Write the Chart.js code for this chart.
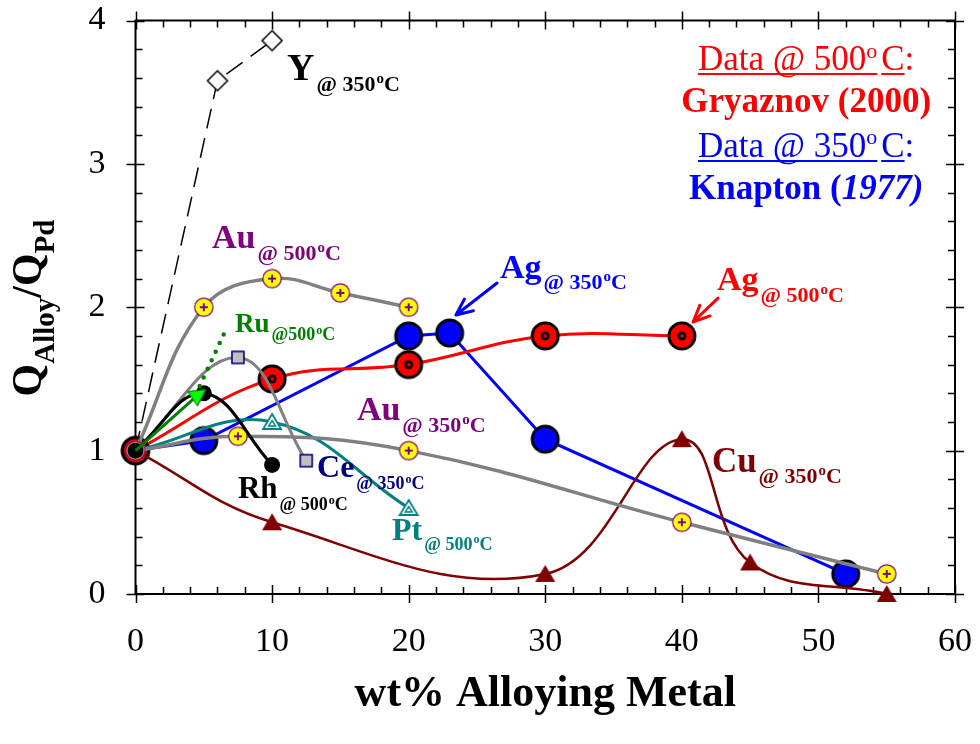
<!DOCTYPE html>
<html>
<head>
<meta charset="utf-8">
<script src="https://cdn.jsdelivr.net/npm/chart.js@4/dist/chart.umd.min.js"></script>
<style>
  html, body { margin: 0; padding: 0; background: #fff; }
  #wrap { width: 980px; height: 744px; position: relative; }
</style>
</head>
<body>
<div id="wrap"><canvas id="c" width="980" height="744"></canvas></div>
<script>
const SERIF = '"Liberation Serif", "Times New Roman", serif';

// wt% of alloying metal and relative permeability Q_alloy / Q_Pd, one pair of arrays per series
const yX = [0, 6, 10];
const yQ = [1, 3.58, 3.86];
const au500X = [0, 5, 10, 15, 20];
const au500Q = [1, 2.0, 2.2, 2.1, 2.0];
const au350X = [0, 7.5, 20, 40, 55];
const au350Q = [1, 1.1, 1.0, 0.5, 0.14];
const ag350X = [0, 5, 20, 23, 30, 52];
const ag350Q = [1, 1.07, 1.8, 1.82, 1.08, 0.14];
const ag500X = [0, 10, 20, 30, 40];
const ag500Q = [1, 1.5, 1.6, 1.8, 1.8];
const ceX = [0, 7.5, 12.5];
const ceQ = [1, 1.65, 0.93];
const rhX = [0, 5, 10];
const rhQ = [1, 1.4, 0.9];
const ruX = [0, 4.6];
const ruQ = [1, 1.39];
const ruTrendX = [4.7, 6.5];
const ruTrendQ = [1.45, 1.82];
const ptX = [0, 10, 20];
const ptQ = [1, 1.2, 0.6];
const cuX = [0, 10, 30, 40, 45, 55];
const cuQ = [1, 0.5, 0.14, 1.08, 0.22, 0];

const xTickValues = [0, 10, 20, 30, 40, 50, 60];
const yTickValues = [0, 1, 2, 3, 4];

const pts = (xs, ys) => xs.map((x, i) => ({ x: x, y: ys[i] }));

// ---------- marker images ----------
function makeMarker(w, h, draw) {
  const c = document.createElement('canvas');
  c.width = w; c.height = h;
  draw(c.getContext('2d'), w, h);
  return c;
}
function disc(g, x, y, r, color) {
  g.beginPath(); g.arc(x, y, r, 0, Math.PI * 2); g.fillStyle = color; g.fill();
}
const agRedMarker = makeMarker(32, 32, g => {
  disc(g, 16, 16, 14.5, '#000');
  disc(g, 16, 16, 11.5, '#ff0000');
  disc(g, 16, 16, 4.5, '#000');
  disc(g, 16, 16, 1.7, '#ff0000');
});
const agBlueMarker = makeMarker(32, 32, g => {
  disc(g, 16, 16, 14.5, '#000');
  disc(g, 16, 16, 11.5, '#0000ff');
});
const auMarker = makeMarker(22, 22, g => {
  disc(g, 11, 11, 9.8, '#800080');
  disc(g, 11, 11, 8.6, '#ffff00');
  g.strokeStyle = '#800080'; g.lineWidth = 2;
  g.beginPath(); g.moveTo(7, 11); g.lineTo(15, 11); g.moveTo(11, 7); g.lineTo(11, 15); g.stroke();
});
const ceMarker = makeMarker(16, 16, g => {
  g.fillStyle = '#c0c0c0'; g.fillRect(2, 2, 12, 12);
  g.strokeStyle = '#000080'; g.lineWidth = 1.6; g.strokeRect(2, 2, 12, 12);
});
const ptMarker = makeMarker(22, 20, g => {
  g.strokeStyle = '#008080'; g.lineWidth = 1.8; g.fillStyle = '#fff';
  g.beginPath(); g.moveTo(11, 2); g.lineTo(20, 17); g.lineTo(2, 17); g.closePath(); g.fill(); g.stroke();
  g.lineWidth = 1.4;
  g.beginPath(); g.moveTo(11, 8.5); g.lineTo(14.5, 14); g.lineTo(7.5, 14); g.closePath(); g.stroke();
});
const cuMarker = makeMarker(22, 20, g => {
  g.fillStyle = '#800000';
  g.beginPath(); g.moveTo(11, 1); g.lineTo(21, 18); g.lineTo(1, 18); g.closePath(); g.fill();
});
const yMarker = makeMarker(24, 24, g => {
  g.strokeStyle = '#000'; g.lineWidth = 1.5; g.fillStyle = '#fff';
  g.beginPath(); g.moveTo(12, 2); g.lineTo(22, 12); g.lineTo(12, 22); g.lineTo(2, 12); g.closePath(); g.fill(); g.stroke();
});
const ruMarker = makeMarker(20, 20, g => {
  g.fillStyle = '#00ff00'; g.strokeStyle = '#008000'; g.lineWidth = 1.2;
  g.beginPath(); g.moveTo(10, 1); g.lineTo(18.5, 17); g.lineTo(1.5, 17); g.closePath(); g.fill(); g.stroke();
});

// ---------- series labels (anchor in data units: left edge, baseline of main text) ----------
const seriesLabels = [
  { x: 11.09, y: 3.584, main: 'Y',  temp: '350', sep: ' ', color: '#000000', ms: 38, ss: 22, dy: 11 },
  { x: 5.6,   y: 2.413, main: 'Au', temp: '500', sep: ' ', color: '#800080', ms: 34, ss: 22, dy: 12 },
  { x: 7.28,  y: 1.827, main: 'Ru', temp: '500', sep: '',  color: '#008000', ms: 27, ss: 18, dy: 8 },
  { x: 26.68, y: 2.204, main: 'Ag', temp: '350', sep: ' ', color: '#0000ff', ms: 34, ss: 22, dy: 11 },
  { x: 42.57, y: 2.12,  main: 'Ag', temp: '500', sep: ' ', color: '#ff0000', ms: 34, ss: 22, dy: 12 },
  { x: 16.21, y: 1.213, main: 'Au', temp: '350', sep: ' ', color: '#800080', ms: 34, ss: 22, dy: 12 },
  { x: 7.5,   y: 0.669, main: 'Rh', temp: '500', sep: ' ', color: '#000000', ms: 31, ss: 18, dy: 12 },
  { x: 13.29, y: 0.816, main: 'Ce', temp: '350', sep: ' ', color: '#000080', ms: 32, ss: 18, dy: 12 },
  { x: 18.78, y: 0.377, main: 'Pt', temp: '500', sep: ' ', color: '#008080', ms: 32, ss: 18, dy: 10 },
  { x: 42.2,  y: 0.851, main: 'Cu', temp: '350', sep: ' ', color: '#800000', ms: 35, ss: 22, dy: 11 }
];

// pointer arrows from labels to curves (data units)
const labelArrows = [
  { from: [26.47, 2.169], to: [23.46, 1.946], color: '#0000ff' },
  { from: [42.65, 2.064], to: [40.82, 1.897], color: '#ff0000' }
];

function drawSeriesLabel(ctx, px, py, l) {
  ctx.save();
  ctx.fillStyle = l.color;
  ctx.textAlign = 'left';
  ctx.textBaseline = 'alphabetic';
  ctx.font = `bold ${l.ms}px ${SERIF}`;
  ctx.fillText(l.main, px, py);
  let cx = px + ctx.measureText(l.main).width + 2;
  const sy = py + l.dy;
  ctx.font = `bold ${l.ss}px ${SERIF}`;
  const s = '@' + l.sep + l.temp;
  ctx.fillText(s, cx, sy);
  cx += ctx.measureText(s).width + 1;
  ctx.font = `bold ${Math.round(l.ss * 0.66)}px ${SERIF}`;
  ctx.fillText('o', cx, sy - l.ss * 0.36);
  cx += ctx.measureText('o').width;
  ctx.font = `bold ${l.ss}px ${SERIF}`;
  ctx.fillText('C', cx, sy);
  ctx.restore();
}

function drawSourceBlock(ctx, cx, baseY, temp, color, authorParts) {
  // "Data @ T°C:" underlined, followed by the author line
  ctx.save();
  ctx.fillStyle = color; ctx.strokeStyle = color;
  ctx.textBaseline = 'alphabetic'; ctx.textAlign = 'left';
  const fs = 35;
  const big = `${fs}px ${SERIF}`, sup = `${Math.round(fs * 0.62)}px ${SERIF}`;
  const a = 'Data @ ' + temp;
  ctx.font = big; const wa = ctx.measureText(a).width;
  ctx.font = sup; const wo = ctx.measureText('o').width;
  ctx.font = big; const wsp = ctx.measureText(' ').width * 0.45, wc = ctx.measureText('C').width, wcol = ctx.measureText(':').width;
  const total = wa + wo + wsp + wc + wcol;
  let x = cx - total / 2;
  ctx.font = big; ctx.fillText(a, x, baseY);
  ctx.font = sup; ctx.fillText('o', x + wa, baseY - fs * 0.36);
  ctx.font = big; ctx.fillText('C', x + wa + wo + wsp, baseY);
  ctx.fillText(':', x + wa + wo + wsp + wc, baseY);
  ctx.lineWidth = 2;
  ctx.beginPath();
  ctx.moveTo(x, baseY + 4); ctx.lineTo(x + wa + wo, baseY + 4);
  ctx.moveTo(x + wa + wo + wsp, baseY + 4); ctx.lineTo(x + wa + wo + wsp + wc, baseY + 4);
  ctx.stroke();

  // author line
  const y2 = baseY + 42;
  let w = 0;
  authorParts.forEach(p => { ctx.font = p.font; w += ctx.measureText(p.t).width; });
  x = cx - w / 2;
  authorParts.forEach(p => { ctx.font = p.font; ctx.fillText(p.t, x, y2); x += ctx.measureText(p.t).width; });
  ctx.restore();
}

const annotationPlugin = {
  id: 'annotations',
  beforeDatasetsDraw(chart) {
    // boxed frame with crossing major ticks and inward minor ticks
    const ctx = chart.ctx, a = chart.chartArea;
    const xs = chart.scales.x, ys = chart.scales.y;
    ctx.save();
    ctx.strokeStyle = '#000';
    ctx.lineWidth = 1.5;
    ctx.beginPath();
    for (let v = 0; v <= 60 + 1e-9; v += 2) {
      const p = Math.round(xs.getPixelForValue(v)) + 0.5;
      const major = v % 10 === 0;
      if (major) {
        ctx.moveTo(p, a.bottom - 9); ctx.lineTo(p, a.bottom + 9);
        ctx.moveTo(p, a.top - 9); ctx.lineTo(p, a.top + 9);
      } else {
        ctx.moveTo(p, a.bottom); ctx.lineTo(p, a.bottom - 7);
        ctx.moveTo(p, a.top); ctx.lineTo(p, a.top + 7);
      }
    }
    for (let i = 0; i <= 20; i++) {
      const v = i * 0.2;
      const p = Math.round(ys.getPixelForValue(v)) + 0.5;
      const major = i % 5 === 0;
      if (major) {
        ctx.moveTo(a.left - 9, p); ctx.lineTo(a.left + 9, p);
        ctx.moveTo(a.right - 9, p); ctx.lineTo(a.right + 9, p);
      } else {
        ctx.moveTo(a.left, p); ctx.lineTo(a.left + 7, p);
        ctx.moveTo(a.right, p); ctx.lineTo(a.right - 7, p);
      }
    }
    ctx.stroke();
    ctx.lineWidth = 2;
    ctx.strokeRect(a.left, a.top, a.right - a.left, a.bottom - a.top);
    ctx.restore();
  },
  afterDatasetsDraw(chart) {
    const ctx = chart.ctx;
    const xs = chart.scales.x, ys = chart.scales.y;
    const X = v => xs.getPixelForValue(v), Y = v => ys.getPixelForValue(v);

    seriesLabels.forEach(l => drawSeriesLabel(ctx, X(l.x), Y(l.y), l));

    labelArrows.forEach(ar => {
      const x1 = X(ar.from[0]), y1 = Y(ar.from[1]), x2 = X(ar.to[0]), y2 = Y(ar.to[1]);
      const ang = Math.atan2(y2 - y1, x2 - x1), hl = 18, ha = 0.42;
      ctx.save();
      ctx.strokeStyle = ar.color; ctx.lineWidth = 3; ctx.lineCap = 'round'; ctx.lineJoin = 'round';
      ctx.beginPath();
      ctx.moveTo(x1, y1); ctx.lineTo(x2, y2);
      ctx.moveTo(x2 - hl * Math.cos(ang - ha), y2 - hl * Math.sin(ang - ha));
      ctx.lineTo(x2, y2);
      ctx.lineTo(x2 - hl * Math.cos(ang + ha), y2 - hl * Math.sin(ang + ha));
      ctx.stroke();
      ctx.restore();
    });

    // data source notes
    const cx = X(49.1);
    drawSourceBlock(ctx, cx, Y(3.654), '500', '#ff0000',
      [{ t: 'Gryaznov (2000)', font: `bold 35px ${SERIF}` }]);
    drawSourceBlock(ctx, cx, Y(3.048), '350', '#0000ff',
      [{ t: 'Knapton (', font: `bold 35px ${SERIF}` }, { t: '1977)', font: `italic bold 35px ${SERIF}` }]);
  },
  afterDraw(chart) {
    const ctx = chart.ctx, a = chart.chartArea;
    ctx.save();
    ctx.fillStyle = '#000';
    ctx.textBaseline = 'alphabetic';
    // x axis title
    ctx.font = `bold 44px ${SERIF}`;
    ctx.textAlign = 'center';
    ctx.fillText('wt% Alloying Metal', (a.left + a.right) / 2, 706);
    // y axis title with subscripts
    const parts = [
      { t: 'Q', f: `bold 42px ${SERIF}`, d: 0 },
      { t: 'Alloy', f: `bold 29px ${SERIF}`, d: 13 },
      { t: '/', f: `bold 42px ${SERIF}`, d: 0 },
      { t: 'Q', f: `bold 42px ${SERIF}`, d: 0 },
      { t: 'Pd', f: `bold 29px ${SERIF}`, d: 13 }
    ];
    let w = 0;
    parts.forEach(p => { ctx.font = p.f; w += ctx.measureText(p.t).width; });
    ctx.translate(41, 308);
    ctx.rotate(-Math.PI / 2);
    ctx.textAlign = 'left';
    let x = -w / 2;
    parts.forEach(p => { ctx.font = p.f; ctx.fillText(p.t, x, p.d); x += ctx.measureText(p.t).width; });
    ctx.restore();
  }
};

const common = { clip: false, pointHoverRadius: 6 };

const datasets = [
  Object.assign({ label: 'Ru 500', data: pts(ruX, ruQ), borderColor: '#008000', borderWidth: 3,
    tension: 0, pointStyle: ruMarker, pointRadius: [0, 8], pointRotation: 55 }, common),
  Object.assign({ label: 'Ru 500 trend', data: pts(ruTrendX, ruTrendQ), borderColor: '#008000', borderWidth: 4.5,
    borderDash: [0, 9.5], borderCapStyle: 'round', tension: 0, pointRadius: 0 }, common),
  Object.assign({ label: 'Rh 500', data: pts(rhX, rhQ), borderColor: '#000000', borderWidth: 3, tension: 0.4,
    pointStyle: 'circle', pointRadius: 8, backgroundColor: '#000', pointBorderWidth: 0 }, common),
  Object.assign({ label: 'Ce 350', data: pts(ceX, ceQ), borderColor: '#808080', borderWidth: 3, tension: 0.4,
    pointStyle: ceMarker, pointRadius: [0, 7, 7] }, common),
  Object.assign({ label: 'Au 350', data: pts(au350X, au350Q), borderColor: '#808080', borderWidth: 3.5, tension: 0.4,
    pointStyle: auMarker, pointRadius: 9 }, common),
  Object.assign({ label: 'Au 500', data: pts(au500X, au500Q), borderColor: '#808080', borderWidth: 3.5, tension: 0.4,
    pointStyle: auMarker, pointRadius: 9 }, common),
  Object.assign({ label: 'Pt 500', data: pts(ptX, ptQ), borderColor: '#008080', borderWidth: 3, tension: 0.4,
    pointStyle: ptMarker, pointRadius: [0, 9, 9] }, common),
  Object.assign({ label: 'Cu 350', data: pts(cuX, cuQ), borderColor: '#800000', borderWidth: 2.5, tension: 0.4,
    pointStyle: cuMarker, pointRadius: [0, 9, 9, 9, 9, 9] }, common),
  Object.assign({ label: 'Ag 500', data: pts(ag500X, ag500Q), borderColor: '#ff0000', borderWidth: 3, tension: 0.4,
    pointStyle: agRedMarker, pointRadius: 14 }, common),
  Object.assign({ label: 'Ag 350', data: pts(ag350X, ag350Q), borderColor: '#0000ff', borderWidth: 3, tension: 0,
    pointStyle: agBlueMarker, pointRadius: 14 }, common),
  Object.assign({ label: 'Y 350', data: pts(yX, yQ), borderColor: '#000000', borderWidth: 1.5, borderDash: [20, 10],
    tension: 0, pointStyle: yMarker, pointRadius: [0, 10, 10] }, common)
];

new Chart(document.getElementById('c'), {
  type: 'line',
  data: { datasets: datasets },
  options: {
    responsive: false,
    animation: false,
    events: [],
    layout: { padding: { top: 20.5, right: 25, left: 0, bottom: 0 } },
    plugins: { legend: { display: false }, tooltip: { enabled: false } },
    scales: {
      x: {
        type: 'linear', min: 0, max: 60,
        afterBuildTicks: s => { s.ticks = xTickValues.map(v => ({ value: v })); },
        afterFit: s => { s.height = 150; s.paddingLeft = 0; s.paddingRight = 0; },
        grid: { display: false },
        border: { display: false },
        ticks: { color: '#000', font: { family: SERIF, size: 34 }, padding: 20, maxRotation: 0 }
      },
      y: {
        type: 'linear', min: 0, max: 4,
        afterBuildTicks: s => { s.ticks = yTickValues.map(v => ({ value: v })); },
        afterFit: s => { s.width = 135.5; s.paddingTop = 0; s.paddingBottom = 0; },
        grid: { display: false },
        border: { display: false },
        ticks: { color: '#000', font: { family: SERIF, size: 34 }, padding: 22 }
      }
    }
  },
  plugins: [annotationPlugin]
});
</script>
</body>
</html>
